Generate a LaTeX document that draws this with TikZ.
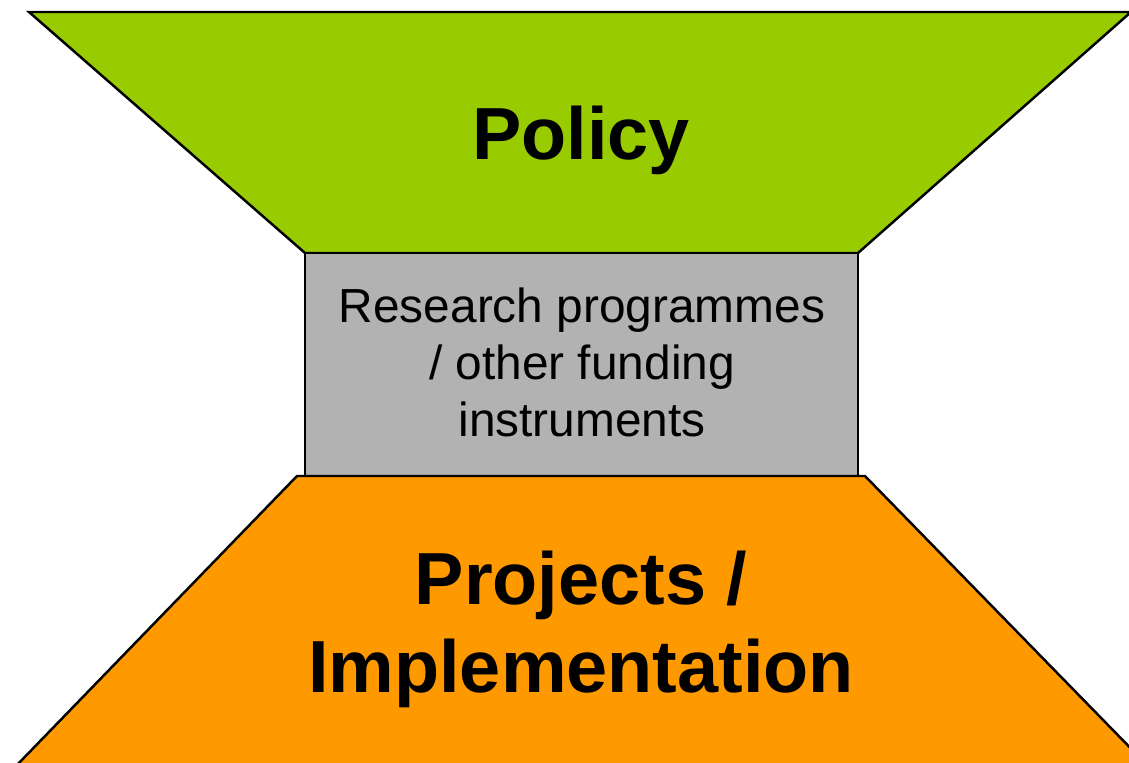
\documentclass[tikz,border=0pt]{standalone}
\usepackage{fontspec}
\setmainfont{Liberation Sans}
\definecolor{policygreen}{HTML}{99CC00}
\definecolor{midgray}{HTML}{B2B2B2}
\definecolor{projorange}{HTML}{FF9900}
\begin{document}
\begin{tikzpicture}[x=0.01cm,y=-0.01cm,
  shapeedge/.style={draw=black,line width=0.7pt,line join=miter},
  bigtext/.style={font=\fontsize{21}{25}\selectfont\bfseries,align=center},
  midtext/.style={font=\fontsize{13.6}{16.2}\selectfont,align=center}]
\useasboundingbox (0,0) rectangle (1129,763);
\clip (0,0) rectangle (1129,763);
% top trapezoid (Policy)
\filldraw[shapeedge,fill=policygreen] (29,12) -- (1131,12) -- (858,253) -- (305,253) -- cycle;
% middle box
\filldraw[shapeedge,fill=midgray] (305,253) rectangle (858,476);
% bottom trapezoid (Projects)
\filldraw[shapeedge,fill=projorange] (297,476) -- (865,476) -- (1148,766) -- (16,766) -- cycle;
\node[bigtext] (policy) at (581,140) {Policy};
\node[midtext] (research) at (582,362) {Research programmes\\/ other funding\\instruments};
\node[bigtext] (projects) at (581,629) {Projects /\\Implementation};
\end{tikzpicture}
\end{document}
